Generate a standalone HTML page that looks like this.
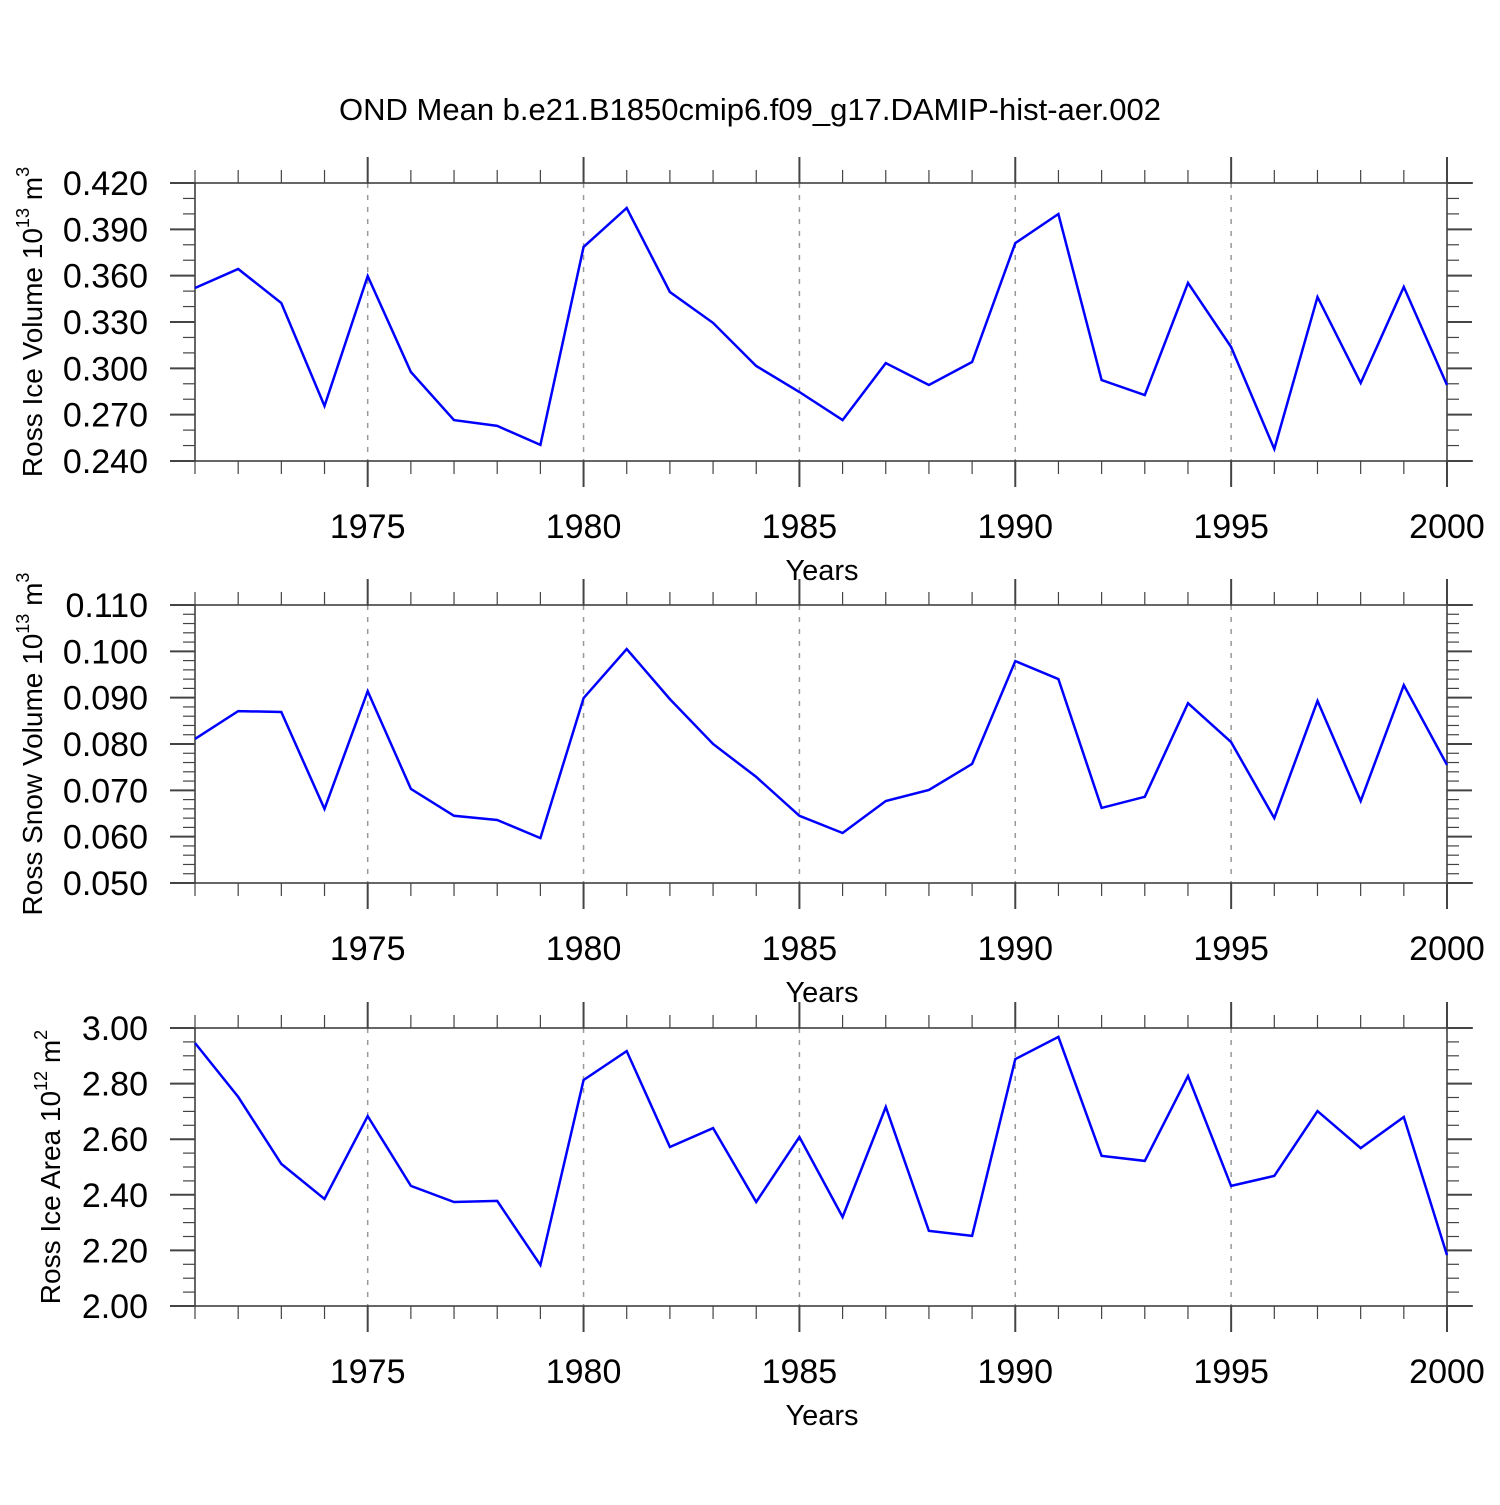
<!DOCTYPE html>
<html><head><meta charset="utf-8"><style>
html,body{margin:0;padding:0;background:#fff;}
svg text{font-family:"Liberation Sans",Arial,sans-serif;fill:#000;}
</style></head><body>
<svg id="chart" width="1500" height="1500" xmlns="http://www.w3.org/2000/svg">
<text x="750" y="120" font-size="31" text-anchor="middle">OND Mean b.e21.B1850cmip6.f09_g17.DAMIP-hist-aer.002</text>
</svg>
<script>
const years = [1971,1972,1973,1974,1975,1976,1977,1978,1979,1980,1981,1982,1983,1984,1985,1986,1987,1988,1989,1990,1991,1992,1993,1994,1995,1996,1997,1998,1999,2000];
const iceVolume = [0.352,0.3643,0.3423,0.2756,0.3598,0.2976,0.2665,0.2627,0.2504,0.3786,0.4038,0.3494,0.3294,0.3015,0.2847,0.2665,0.3034,0.2892,0.3041,0.3811,0.3999,0.2924,0.2827,0.3553,0.3138,0.2478,0.3462,0.2905,0.3527,0.2892];
const snowVolume = [0.0811,0.0871,0.0869,0.0660,0.0914,0.0703,0.0645,0.0636,0.0597,0.0899,0.1005,0.0897,0.0800,0.0729,0.0645,0.0608,0.0677,0.0701,0.0757,0.0979,0.0940,0.0662,0.0686,0.0888,0.0804,0.0640,0.0893,0.0677,0.0927,0.0755];
const iceArea = [2.946,2.752,2.511,2.385,2.683,2.432,2.374,2.378,2.147,2.813,2.917,2.572,2.640,2.374,2.608,2.320,2.716,2.270,2.252,2.888,2.968,2.540,2.522,2.827,2.432,2.468,2.701,2.568,2.680,2.183];
const xTickLabels = [1975,1980,1985,1990,1995,2000];
const iceVolTicks = ["0.420","0.390","0.360","0.330","0.300","0.270","0.240"];
const snowVolTicks = ["0.110","0.100","0.090","0.080","0.070","0.060","0.050"];
const areaTicks = ["3.00","2.80","2.60","2.40","2.20","2.00"];

const svg = document.getElementById('chart');
const NS = 'http://www.w3.org/2000/svg';
function mk(tag, attrs, parent){const e=document.createElementNS(NS,tag);for(const k in attrs)e.setAttribute(k,attrs[k]);(parent||svg).appendChild(e);return e;}
const X0=195, X1=1447, XL=170, XR=1473;
function xs(yr){return X0+(yr-1971)*(X1-X0)/(2000-1971);}

function panel(cfg){
  const g=mk('g',{});
  
  
  const top=cfg.top, bot=cfg.top+278;
  const ys=v=>top+(cfg.max-v)*(bot-top)/(cfg.max-cfg.min);
  xTickLabels.forEach(yr=>{ if(yr<2000){ const l=mk('line',{x1:xs(yr),x2:xs(yr),y1:top,y2:bot,stroke:'#999','stroke-width':1.5,'stroke-dasharray':'5,7'},g);
    
    }});
  [[XL,top,XR,top],[XL,bot,XR,bot],[X0,top,X0,bot],[X1,top,X1,bot]].forEach(c=>mk('line',{x1:c[0],y1:c[1],x2:c[2],y2:c[3],stroke:'#333','stroke-width':1.5},g));
  for(let yr=1971;yr<=2000;yr++){
    const maj=xTickLabels.includes(yr); const len=maj?26:13;
    mk('line',{x1:xs(yr),x2:xs(yr),y1:top-len,y2:top,stroke:'#444','stroke-width':maj?2:1.2},g);
    mk('line',{x1:xs(yr),x2:xs(yr),y1:bot,y2:bot+len,stroke:'#444','stroke-width':maj?2:1.2},g);
  }
  xTickLabels.forEach(yr=>{const t=mk('text',{x:xs(yr),y:bot+77,'font-size':34,'text-anchor':'middle'},g);t.textContent=yr;
    
    });
  const xt=mk('text',{x:822,y:bot+119,'font-size':29,'text-anchor':'middle'},g);xt.textContent='Years';
  
  
  const n=Math.round((cfg.max-cfg.min)/cfg.minor);
  for(let i=0;i<=n;i++){
    const v=cfg.min+i*cfg.minor; const y=ys(v);
    const maj=(i%cfg.per)===0; const len=maj?25:12;
    mk('line',{x1:X0-len,x2:X0,y1:y,y2:y,stroke:'#444','stroke-width':maj?2:1.2},g);
    mk('line',{x1:X1,x2:X1+len,y1:y,y2:y,stroke:'#444','stroke-width':maj?2:1.2},g);
  }
  cfg.ticks.forEach(s=>{const t=mk('text',{x:148,y:ys(parseFloat(s))+12,'font-size':34,'text-anchor':'end'},g);t.textContent=s;
    
    });
  const yt=mk('text',{transform:`translate(${cfg.tx},${(top+bot)/2}) rotate(-90)`,'font-size':28,'text-anchor':'middle'},g);
  
  
  yt.innerHTML=cfg.title+' 10<tspan font-size="18" dy="-13">'+cfg.exp+'</tspan><tspan dy="13"> m</tspan><tspan font-size="18" dy="-13">'+cfg.unitExp+'</tspan>';
  const pts=years.map((yr,i)=>xs(yr).toFixed(1)+','+ys(cfg.data[i]).toFixed(1)).join(' ');
  const pl=mk('polyline',{points:pts,fill:'none',stroke:'#0000ff','stroke-width':2.5,'stroke-linejoin':'miter'},g);
  
  
}
panel({name:'ice-volume-panel',top:183,min:0.24,max:0.42,minor:0.01,per:3,ticks:iceVolTicks,data:iceVolume,title:'Ross Ice Volume',exp:'13',unitExp:'3',tx:42});
panel({name:'snow-volume-panel',top:605,min:0.05,max:0.11,minor:0.002,per:5,ticks:snowVolTicks,data:snowVolume,title:'Ross Snow Volume',exp:'13',unitExp:'3',tx:42});
panel({name:'ice-area-panel',top:1028,min:2.0,max:3.0,minor:0.05,per:4,ticks:areaTicks,data:iceArea,title:'Ross Ice Area',exp:'12',unitExp:'2',tx:60});
</script>
</body></html>
